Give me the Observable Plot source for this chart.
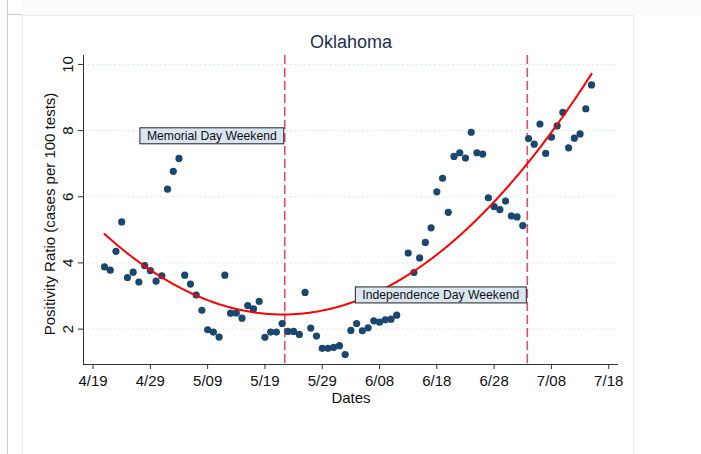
<!DOCTYPE html>
<html><head><meta charset="utf-8">
<script src="https://cdn.jsdelivr.net/npm/d3@7"></script>
<script src="https://cdn.jsdelivr.net/npm/@observablehq/plot@0.6"></script>
<style>
html,body{margin:0;padding:0;background:#fff;}
#wrap{position:relative;width:701px;height:454px;overflow:hidden;font-family:"Liberation Sans",Arial,sans-serif;}
.f{position:absolute;}
</style></head><body>
<div id="wrap">
  <div class="f" style="left:22px;top:0;width:679px;height:15px;background:#fbfbfb"></div>
  <div class="f" style="left:7px;top:0;width:1px;height:454px;background:#cdcdcd"></div>
  <div class="f" style="left:7px;top:14px;width:15px;height:1px;background:#cdcdcd"></div>
  <div class="f" style="left:22px;top:15px;width:610px;height:460px;border:1px solid #ececec;background:#fff"></div>
</div>
<script>
const title = "Oklahoma";
const xLabel = "Dates";
const yLabel = "Positivity Ratio (cases per 100 tests)";

const dates = [
  "2020-04-21","2020-04-22","2020-04-23","2020-04-24","2020-04-25","2020-04-26","2020-04-27","2020-04-28","2020-04-29","2020-04-30",
  "2020-05-01","2020-05-02","2020-05-03","2020-05-04","2020-05-05","2020-05-06","2020-05-07","2020-05-08","2020-05-09","2020-05-10",
  "2020-05-11","2020-05-12","2020-05-13","2020-05-14","2020-05-15","2020-05-16","2020-05-17","2020-05-18","2020-05-19","2020-05-20",
  "2020-05-21","2020-05-22","2020-05-23","2020-05-24","2020-05-25","2020-05-26","2020-05-27","2020-05-28","2020-05-29","2020-05-30",
  "2020-05-31","2020-06-01","2020-06-02","2020-06-03","2020-06-04","2020-06-05","2020-06-06","2020-06-07","2020-06-08","2020-06-09",
  "2020-06-10","2020-06-11","2020-06-13","2020-06-14","2020-06-15","2020-06-16","2020-06-17","2020-06-18","2020-06-19","2020-06-20",
  "2020-06-21","2020-06-22","2020-06-23","2020-06-24","2020-06-25","2020-06-26","2020-06-27","2020-06-28","2020-06-29","2020-06-30",
  "2020-07-01","2020-07-02","2020-07-03","2020-07-04","2020-07-05","2020-07-06","2020-07-07","2020-07-08","2020-07-09","2020-07-10",
  "2020-07-11","2020-07-12","2020-07-13","2020-07-14","2020-07-15"
];
const ratio = [
  3.88,3.78,4.35,5.24,3.56,3.72,3.42,3.92,3.77,3.45,
  3.61,6.23,6.77,7.16,3.63,3.36,3.03,2.57,1.98,1.91,
  1.76,3.63,2.48,2.49,2.33,2.71,2.61,2.84,1.75,1.91,
  1.91,2.17,1.93,1.93,1.84,3.11,2.03,1.79,1.42,1.42,
  1.45,1.50,1.23,1.96,2.17,1.95,2.04,2.25,2.21,2.28,
  2.30,2.42,4.30,3.71,4.15,4.62,5.06,6.15,6.56,5.53,
  7.22,7.33,7.17,7.95,7.33,7.29,5.97,5.70,5.61,5.87,
  5.42,5.39,5.13,7.76,7.59,8.20,7.31,7.80,8.14,8.55,
  7.48,7.77,7.90,8.66,9.38
];

const eventDates = ["2020-05-22T11:00:00Z", "2020-07-03T19:00:00Z"];
const eventLabels = ["Memorial Day Weekend", "Independence Day Weekend"];
const eventLabelY = [7.84, 3.03];

const xTickDates = ["2020-04-19","2020-04-29","2020-05-09","2020-05-19","2020-05-29","2020-06-08","2020-06-18","2020-06-28","2020-07-08","2020-07-18"];
const xTickLabels = ["4/19","4/29","5/09","5/19","5/29","6/08","6/18","6/28","7/08","7/18"];
const yTicks = [2, 4, 6, 8, 10];

const xDomain = [new Date("2020-04-17T08:00:00Z"), new Date("2020-07-19T17:00:00Z")];
const yDomain = [0.93, 10.27];

const pts = dates.map((d, i) => ({date: new Date(d + "T00:00:00Z"), value: ratio[i]}));
const events = eventDates.map((d, i) => ({date: new Date(d), label: eventLabels[i], y: eventLabelY[i]}));
const xTicks = xTickDates.map(d => new Date(d + "T00:00:00Z"));
const tickLabel = new Map(xTicks.map((d, i) => [+d, xTickLabels[i]]));

// Quadratic least-squares fit of value on time (like Stata qfit)
const t0 = +pts[0].date;
const DAY = 864e5;
const S = [0,0,0,0,0], T = [0,0,0];
for (const p of pts) {
  const t = (p.date - t0) / DAY;
  for (let k = 0; k < 5; k++) S[k] += t ** k;
  for (let k = 0; k < 3; k++) T[k] += p.value * t ** k;
}
function solve3(A, b) {
  const M = A.map((r, i) => [...r, b[i]]);
  for (let i = 0; i < 3; i++) {
    let piv = i;
    for (let j = i + 1; j < 3; j++) if (Math.abs(M[j][i]) > Math.abs(M[piv][i])) piv = j;
    [M[i], M[piv]] = [M[piv], M[i]];
    for (let j = i + 1; j < 3; j++) {
      const f = M[j][i] / M[i][i];
      for (let k = i; k < 4; k++) M[j][k] -= f * M[i][k];
    }
  }
  const x = [0,0,0];
  for (let i = 2; i >= 0; i--) {
    let s = M[i][3];
    for (let k = i + 1; k < 3; k++) s -= M[i][k] * x[k];
    x[i] = s / M[i][i];
  }
  return x;
}
const coef = solve3([[S[0],S[1],S[2]],[S[1],S[2],S[3]],[S[2],S[3],S[4]]], T);
const tEnd = (pts[pts.length - 1].date - t0) / DAY;
const fit = d3.range(0, tEnd + 0.001, 0.25).map(t => ({
  date: new Date(t0 + t * DAY),
  value: coef[0] + coef[1] * t + coef[2] * t * t
}));

const FONT = '"Liberation Sans", Arial, Helvetica, sans-serif';

const chart = Plot.plot({
  width: 701,
  height: 454,
  marginLeft: 83,
  marginRight: 83,
  marginTop: 55,
  marginBottom: 90,
  x: {type: "utc", domain: xDomain},
  y: {domain: yDomain, axis: null},
  style: {background: "transparent", fontFamily: FONT, fontSize: "15px", color: "#111", overflow: "visible"},
  marks: [
    Plot.ruleY(yTicks, {stroke: "#cfe0e4", strokeOpacity: 1, strokeDasharray: "1.5,3"}),
    Plot.ruleX([xDomain[0]], {stroke: "#333", strokeWidth: 1}),
    Plot.ruleY([yDomain[0]], {stroke: "#333", strokeWidth: 1}),
    Plot.axisX({ticks: xTicks, tickFormat: d => tickLabel.get(+d), tickSize: 5, tickPadding: 6, label: null, fontSize: 15, stroke: "#333", fill: "#111"}),
    Plot.axisY({ticks: yTicks, tickFormat: () => "", tickSize: 5, label: null, stroke: "#333"}),
    Plot.text(yTicks, {y: d => d, text: d => String(d), frameAnchor: "left", dx: -15, rotate: -90, textAnchor: "middle", lineAnchor: "middle", fontSize: 15, fill: "#111"}),
    Plot.ruleX(events, {x: "date", stroke: "#d94f72", strokeWidth: 1.6, strokeDasharray: "9,4"}),
    Plot.dot(pts, {x: "date", y: "value", r: 3.6, fill: "#1a476f", stroke: "none"}),
    Plot.line(fit, {x: "date", y: "value", stroke: "#ff0000", strokeWidth: 2}),
    Plot.text(events, {x: "date", y: "y", text: "label", textAnchor: "end", dx: -8, fontSize: 12.2, fill: "#111"}),
    Plot.text([title], {text: d => d, frameAnchor: "top", dy: -13, lineAnchor: "middle", fontSize: 18, fill: "#1f2f4f"}),
    Plot.text([xLabel], {text: d => d, frameAnchor: "bottom", dy: 34, lineAnchor: "middle", fontSize: 15, fill: "#111"}),
    Plot.text([yLabel], {text: d => d, frameAnchor: "left", dx: -33, dy: 4, rotate: -90, textAnchor: "middle", lineAnchor: "middle", fontSize: 15, fill: "#111"})
  ]
});
chart.style.position = "absolute";
chart.style.left = "0px";
chart.style.top = "0px";
document.getElementById("wrap").appendChild(chart);

// Boxes behind the event labels
const labelSet = new Set(eventLabels);
Array.from(chart.querySelectorAll("text")).filter(t => labelSet.has(t.textContent)).forEach(t => {
  const b = t.getBBox();
  const r = document.createElementNS("http://www.w3.org/2000/svg", "rect");
  r.setAttribute("x", b.x - 7);
  r.setAttribute("y", b.y + b.height / 2 - 8);
  r.setAttribute("width", b.width + 14);
  r.setAttribute("height", 16);
  const tr = t.getAttribute("transform");
  if (tr) r.setAttribute("transform", tr);
  r.setAttribute("fill", "#d9e6ef");
  r.setAttribute("stroke", "#222");
  r.setAttribute("stroke-width", "1");
  t.parentNode.insertBefore(r, t);
});
</script>
</body></html>
